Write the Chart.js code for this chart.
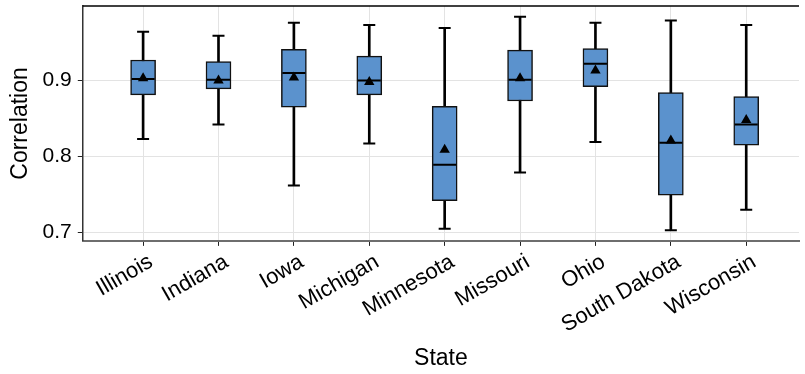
<!DOCTYPE html>
<html>
<head>
<meta charset="utf-8">
<script src="https://cdn.jsdelivr.net/npm/chart.js@4"></script>
<style>
  html, body { margin:0; padding:0; background:#fff; }
  #wrap { width:805px; height:374px; }
</style>
</head>
<body>
<div id="wrap"><canvas id="chart"></canvas></div>
<script>
// correlation per state, box plot summary
const states = ["Illinois","Indiana","Iowa","Michigan","Minnesota","Missouri","Ohio","South Dakota","Wisconsin"];
const whiskerLow  = [0.823, 0.842, 0.762, 0.817, 0.705, 0.779, 0.819, 0.703, 0.730];
const q1          = [0.881, 0.889, 0.865, 0.881, 0.742, 0.873, 0.892, 0.749, 0.815];
const medians     = [0.902, 0.901, 0.910, 0.900, 0.789, 0.901, 0.922, 0.818, 0.842];
const q3          = [0.927, 0.925, 0.941, 0.932, 0.866, 0.940, 0.942, 0.884, 0.879];
const whiskerHigh = [0.964, 0.959, 0.976, 0.973, 0.969, 0.984, 0.976, 0.979, 0.973];
const means       = [0.903, 0.900, 0.904, 0.898, 0.809, 0.903, 0.913, 0.821, 0.848];
const yTicks = [0.7, 0.8, 0.9];

const FONT = "'Liberation Sans', Arial, Helvetica, sans-serif";
const BOX_W = 25;
const CAP_W = 12;

// medians and whisker caps go on top of the boxes
const boxExtras = {
  id:"boxExtras",
  afterDatasetDraw(chart, args){
    if(args.index !== 1) return;
    const ctx = chart.ctx;
    const xs = chart.scales.x, ys = chart.scales.y;
    ctx.save();
    ctx.strokeStyle = "#000";
    ctx.lineWidth = 2;
    states.forEach((s,i)=>{
      const x = xs.getPixelForValue(i);
      ctx.beginPath();
      ctx.moveTo(x - BOX_W/2 + 1, ys.getPixelForValue(medians[i]));
      ctx.lineTo(x + BOX_W/2 - 1, ys.getPixelForValue(medians[i]));
      [whiskerLow[i], whiskerHigh[i]].forEach(v=>{
        const y = ys.getPixelForValue(v);
        ctx.moveTo(x - CAP_W/2, y);
        ctx.lineTo(x + CAP_W/2, y);
      });
      ctx.stroke();
    });
    ctx.restore();
  },
  afterDraw(chart){
    const ctx = chart.ctx, a = chart.chartArea;
    ctx.save();
    ctx.strokeStyle = "#000";
    ctx.lineWidth = 1.5;
    ctx.beginPath();
    ctx.moveTo(a.left, a.top);
    ctx.lineTo(a.right, a.top);
    ctx.stroke();
    ctx.restore();
  }
};

new Chart(document.getElementById("chart"),{
  data:{
    datasets:[
      {
        type:"bar",
        label:"whisker",
        data: states.map((s,i)=>({x:i, y:[whiskerLow[i], whiskerHigh[i]]})),
        backgroundColor:"#000",
        barThickness:2,
        grouped:false,
        order:3
      },
      {
        type:"bar",
        label:"box",
        data: states.map((s,i)=>({x:i, y:[q1[i], q3[i]]})),
        backgroundColor:"#5b92cd",
        borderColor:"#111",
        borderWidth:1.5,
        borderSkipped:false,
        barThickness:BOX_W,
        grouped:false,
        order:2
      },
      {
        type:"scatter",
        label:"mean",
        data: states.map((s,i)=>({x:i, y:means[i]})),
        pointStyle:"triangle",
        pointRadius:6,
        backgroundColor:"#000",
        borderColor:"#000",
        borderWidth:0,
        order:0
      }
    ]
  },
  options:{
    responsive:true,
    maintainAspectRatio:false,
    animation:false,
    layout:{ padding:{ left:5, top:3, right:0, bottom:2 } },
    plugins:{ legend:{ display:false }, tooltip:{ enabled:false } },
    scales:{
      x:{
        type:"linear",
        offset:false,
        min:-0.8,
        max:8.7,
        afterBuildTicks(scale){ scale.ticks = states.map((s,i)=>({value:i})); },
        // leave a little more room between the axis and the title
        afterFit(scale){ scale.height += 3; },
        ticks:{
          callback:(v)=>states[v],
          minRotation:30,
          maxRotation:30,
          autoSkip:false,
          padding:3,
          labelOffset:8,
          color:"#000",
          font:{ family:FONT, size:22 }
        },
        grid:{ offset:false, color:"#e3e3e3", tickColor:"#222", tickLength:5 },
        border:{ color:"#6e6e6e", width:2 },
        title:{ display:true, text:"State", color:"#000", font:{ family:FONT, size:23 }, padding:{ top:0, bottom:0 } }
      },
      y:{
        min:0.689,
        max:0.998,
        afterBuildTicks(scale){ scale.ticks = yTicks.map(v=>({value:v})); },
        afterFit(scale){ scale.paddingTop = 0; scale.paddingBottom = 0; },
        ticks:{
          callback:(v)=>v.toFixed(1),
          padding:6,
          color:"#000",
          font:{ family:FONT, size:21 }
        },
        grid:{ color:"#e3e3e3", tickColor:"#222", tickLength:5 },
        border:{ color:"#333", width:1.5 },
        title:{ display:true, text:"Correlation", color:"#000", font:{ family:FONT, size:23 }, padding:{ top:2, bottom:2 } }
      }
    }
  },
  plugins:[boxExtras]
});
</script>
</body>
</html>
